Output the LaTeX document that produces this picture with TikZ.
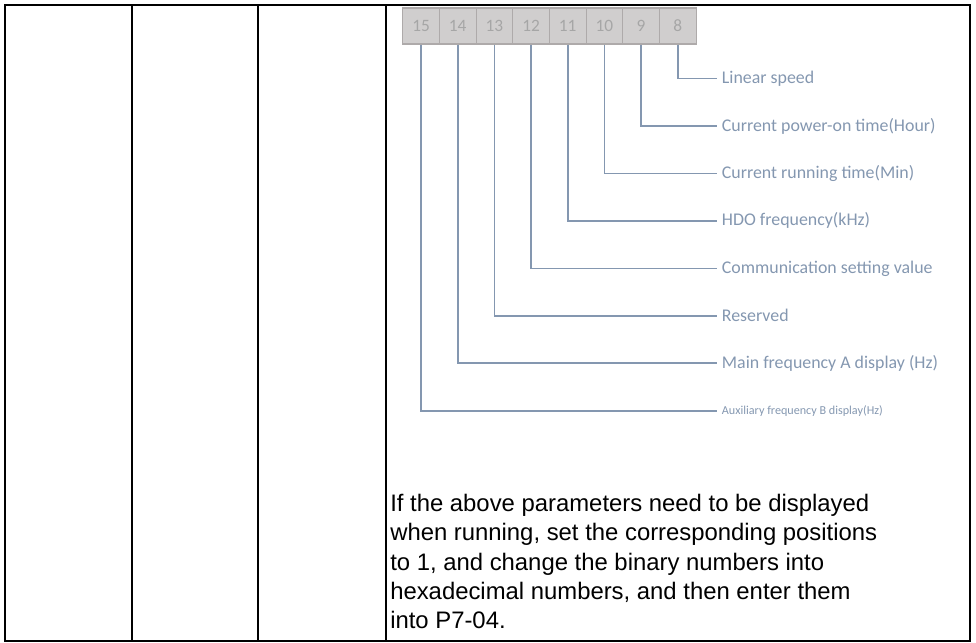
\documentclass[tikz,border=0pt]{standalone}
\usepackage{fontspec}
\setmainfont{Liberation Sans}
\newfontfamily\calibri{Carlito}
\usetikzlibrary{positioning}
\definecolor{wire}{HTML}{8497B0}
\definecolor{bitfill}{HTML}{D0CECE}
\definecolor{bitline}{HTML}{AEAAAA}
\definecolor{bitnum}{HTML}{A6A6A6}
\tikzset{
  grid/.style={line width=1.1pt},
  bit/.style={draw=bitline,fill=bitfill,line width=0.8pt,minimum width=27.5pt,minimum height=27pt,inner sep=0pt,font=\calibri\fontsize{13}{15}\selectfont\color{bitnum}},
  wirel/.style={draw=wire,line width=1.2pt},
  lab/.style={anchor=west,inner xsep=3.5pt,inner ysep=2pt,font=\calibri\fontsize{13.4}{16}\selectfont\color{wire}},
  labs/.style={lab,font=\calibri\fontsize{9.1}{11}\selectfont\color{wire}},
  body/.style={anchor=north west,inner sep=0pt,align=left,font=\fontsize{17.9}{22}\selectfont},
}
\begin{document}
\begin{tikzpicture}[x=0.75pt,y=-0.75pt]
\useasboundingbox (0,0) rectangle (976,643);
% table frame
\draw[grid] (5,5) rectangle (970,641);
\foreach \x in {132,258,386} \draw[grid] (\x,5) -- (\x,641);
% bit boxes 15..8
\foreach \n [count=\i from 0] in {15,14,...,8}
  \node[bit] (b\n) at ({421.05+36.67*\i},26) {\n};
% bit meanings
\foreach \n/\txt in {8/Linear speed, 9/Current power-on time(Hour), 10/Current running time(Min),
  11/HDO frequency(kHz), 12/Communication setting value, 13/Reserved, 14/Main frequency A display (Hz)}
  \node[lab] (l\n) at (717,{78.5+47.46*(\n-8)}) {\txt};
\node[labs] (l15) at (717,410.7) {Auxiliary frequency B display(Hz)};
\foreach \n in {8,...,15} \draw[wirel] (b\n.south) |- (l\n.west);
% note
\node[body] (note) at (390,494) {If the above parameters need to be displayed\\
  when running, set the corresponding positions\\
  to 1, and change the binary numbers into\\
  hexadecimal numbers, and then enter them\\
  into P7-04.};
\end{tikzpicture}
\end{document}
